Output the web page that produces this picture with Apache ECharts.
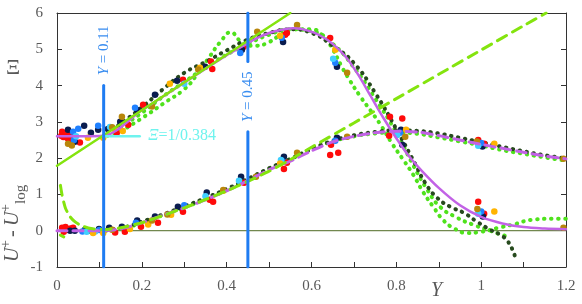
<!DOCTYPE html>
<html><head><meta charset="utf-8">
<script src="https://cdn.jsdelivr.net/npm/echarts@6/dist/echarts.min.js"></script>
<style>html,body{margin:0;padding:0;background:#fff}#c{width:582px;height:304px}</style>
</head><body><div id="c"></div>
<script>
// ---------- data (Y, value) ----------
const redXi = [[0.010,2.62],[0.012,2.73],[0.015,2.58],[0.02,2.68],[0.025,2.55],[0.03,2.64],[0.036,2.52],[0.054,2.43],[0.141,2.7],[0.168,2.92],[0.203,3.47],[0.297,4.16],[0.363,4.66],[0.366,4.46],[0.44,5.07],[0.538,5.4],[0.542,5.45],[0.644,5.31],[0.785,3.14],[0.814,3.09],[0.993,0.8],[1.007,0.47]];
const redDU = [[0.012,0.08],[0.016,-0.03],[0.02,0.1],[0.026,0.03],[0.032,0.06],[0.038,0.08],[0.137,-0.05],[0.16,-0.03],[0.198,0.11],[0.238,0.22],[0.297,0.52],[0.36,0.85],[0.368,0.8],[0.441,1.32],[0.535,1.7],[0.542,1.87],[0.644,2.09],[0.663,2.15],[0.646,2.37],[0.783,2.62],[0.993,2.5],[1.007,2.4]];
const navyXi = [[0.026,2.78],[0.042,2.45],[0.064,2.89],[0.08,2.7],[0.097,2.78],[0.12,2.8],[0.149,3.0],[0.189,3.33],[0.231,3.75],[0.283,4.13],[0.349,4.52],[0.436,4.99],[0.533,5.2],[0.66,4.52],[0.814,2.37],[1.004,0.39]];
const navyDU = [[0.031,0.0],[0.042,0.0],[0.066,0.03],[0.08,0.0],[0.099,0.05],[0.123,0.08],[0.153,0.11],[0.189,0.28],[0.231,0.39],[0.285,0.66],[0.353,1.05],[0.434,1.49],[0.535,2.04],[0.66,2.56],[0.811,2.78],[1.003,2.32]];
const blueXi = [[0.038,2.73],[0.05,2.81],[0.04,2.5],[0.097,2.89],[0.184,3.39],[0.432,4.9],[0.53,5.32],[0.656,4.63],[1.0,0.53]];
const blueDU = [[0.06,-0.02],[0.1,0.02],[0.186,0.22],[0.3,0.7],[0.53,1.93],[0.656,2.48],[0.809,2.7],[1.0,2.42]];
const skyXi = [[0.045,2.6],[0.125,2.86],[0.3,4.05],[0.651,4.74],[0.993,0.47]];
const skyDU = [[0.07,-0.03],[0.09,-0.02],[0.35,0.95],[0.429,1.38],[0.528,1.95],[0.802,2.64],[0.993,2.34]];
const orangeXi = [[0.073,2.56],[0.109,2.56],[0.135,2.8],[0.155,2.75],[0.266,4.05],[0.337,4.49],[0.526,5.37],[0.656,4.99],[1.031,0.53]];
const orangeDU = [[0.085,-0.06],[0.109,-0.06],[0.172,0.05],[0.215,0.17],[0.269,0.44],[0.392,1.1],[0.526,1.85],[0.823,2.78],[1.031,2.4]];
const goldXi = [[0.026,2.4],[0.035,2.35],[0.13,2.85],[0.153,3.14],[0.224,3.42],[0.333,4.44],[0.472,5.48],[0.566,5.67],[0.684,4.35],[0.821,2.59],[0.991,0.6],[1.194,0.08]];
const goldDU = [[0.13,0.03],[0.224,0.28],[0.26,0.45],[0.392,1.12],[0.469,1.49],[0.566,2.15],[0.684,2.59],[0.99,2.46],[1.194,1.98]];

const dkGreenXi = [[0.13,2.8],[0.15,2.95],[0.2,3.4],[0.25,3.9],[0.3,4.35],[0.35,4.65],[0.4,4.97],[0.45,5.27],[0.5,5.45],[0.55,5.55],[0.6,5.45],[0.65,5.1],[0.7,4.62],[0.75,3.8],[0.8,2.8],[0.844,1.85],[0.868,1.32],[0.896,0.91],[0.927,0.66],[0.958,0.5],[0.99,0.25],[1.021,0.03],[1.045,-0.11],[1.061,-0.27],[1.073,-0.5],[1.08,-0.72]];
const ltGreenXiA = [[0.12,2.62],[0.15,2.75],[0.2,3.1],[0.25,3.5],[0.3,3.9],[0.33,4.3],[0.36,4.8],[0.385,5.2],[0.41,5.47],[0.43,5.25],[0.45,5.1],[0.47,5.1],[0.5,5.2],[0.53,5.42],[0.56,5.55],[0.6,5.55],[0.63,5.33],[0.65,5.0],[0.67,4.55],[0.69,4.15],[0.715,3.7],[0.74,3.3],[0.765,2.88],[0.79,2.4],[0.816,1.96],[0.84,1.54],[0.863,1.07],[0.887,0.66],[0.91,0.3],[0.934,0.08],[0.967,-0.06],[1.0,-0.03],[1.04,0.08],[1.075,0.17],[1.12,0.3],[1.17,0.33],[1.2,0.33]];
const ltGreenXiB = [[0.15,2.85],[0.2,3.25],[0.25,3.7],[0.3,4.1],[0.35,4.5],[0.4,4.85],[0.45,5.15],[0.5,5.4],[0.55,5.55],[0.6,5.5],[0.65,5.15],[0.7,4.5],[0.75,3.65],[0.8,2.7],[0.84,1.8],[0.873,1.13],[0.903,0.66],[0.943,0.36],[0.98,0.17],[1.014,0.03],[1.04,-0.08],[1.06,-0.15]];
const dkGreenDU = [[0.1,0.0],[0.15,0.07],[0.2,0.25],[0.25,0.45],[0.3,0.67],[0.35,0.9],[0.4,1.15],[0.45,1.43],[0.5,1.72],[0.55,1.98],[0.6,2.25],[0.65,2.48],[0.7,2.63],[0.75,2.72],[0.8,2.77],[0.85,2.75],[0.9,2.68],[0.95,2.56],[1.0,2.44],[1.05,2.31],[1.1,2.19],[1.15,2.08],[1.2,1.99]];
const ltGreenDU = [[0.1,0.0],[0.15,0.05],[0.2,0.22],[0.25,0.43],[0.3,0.64],[0.35,0.87],[0.4,1.12],[0.45,1.4],[0.5,1.7],[0.55,1.97],[0.6,2.24],[0.65,2.46],[0.7,2.6],[0.75,2.68],[0.8,2.71],[0.85,2.67],[0.9,2.57],[0.95,2.46],[1.0,2.35],[1.05,2.22],[1.1,2.12],[1.15,2.02],[1.2,1.93]];

const violetXi = [[0,2.6],[0.11,2.62],[0.2,3.32],[0.3,4.08],[0.4,4.84],[0.44,5.1],[0.47,5.3],[0.5,5.45],[0.53,5.54],[0.56,5.58],[0.59,5.52],[0.62,5.38],[0.65,5.15],[0.68,4.8],[0.71,4.3],[0.74,3.7],[0.77,3.1],[0.8,2.55],[0.83,2.05],[0.86,1.65],[0.9,1.18],[0.95,0.7],[1.0,0.38],[1.05,0.2],[1.1,0.1],[1.15,0.06],[1.2,0.04]];
const violetDU = [[0,0],[0.1,0.0],[0.15,0.05],[0.2,0.22],[0.25,0.43],[0.3,0.63],[0.35,0.85],[0.4,1.1],[0.45,1.38],[0.5,1.68],[0.55,1.92],[0.6,2.2],[0.65,2.45],[0.7,2.6],[0.75,2.7],[0.8,2.74],[0.85,2.72],[0.9,2.62],[0.95,2.5],[1.0,2.38],[1.05,2.27],[1.1,2.16],[1.15,2.06],[1.2,1.98]];

const logLawXi = [[0,1.79],[0.55,6.0]];
const logLawDU = [[0.008,1.25],[0.012,0.98],[0.02,0.62],[0.03,0.4],[0.04,0.27],[0.055,0.15],[0.08,0.06],[0.11,0.03],[0.15,0.08],[0.2,0.22],[0.25,0.42],[0.3,0.63],[0.35,0.86],[0.4,1.1],[0.45,1.36],[0.5,1.64],[0.55,1.96],[0.6,2.3],[0.7,2.97],[0.8,3.64],[0.9,4.31],[1.0,4.98],[1.1,5.65],[1.153,6.0]];
const logLawNub = [[0.008,-0.12],[0.016,-0.17]];

const refY011 = [[0.11,4.0],[0.11,-1]];
const refY045a = [[0.45,6],[0.45,4.66]];
const refY045b = [[0.45,2.73],[0.45,-1]];
const xiConst = [[0.11,2.604],[0.195,2.604]];
const zeroLine = [[0,0],[1.2,0]];

const label011 = [0.11, 4.97];
const label045 = [0.45, 3.69];
const labelXi = [0.215, 2.604];

const xRange = [0, 1.2, 0.2];
const yRange = [-1, 6, 1];

// ---------- styles ----------
const SERIF = '"Liberation Serif", "DejaVu Serif", serif';
const AX = '#333';
const LBL = '#595959';
const LINEGREEN = '#84e40e';
const LTDOT = '#4fe21c';
const DKDOT = '#274a1e';
const VIOLET = '#c262e6';
const BLUE = '#1f7cf2';
const BLUETXT = '#3b8ef0';
const CYAN = '#6ff3ee';

function sc(name, data, color){
  return {name, type:'scatter', data, symbolSize:6.5, itemStyle:{color, opacity:1}, z:4, silent:true};
}
function ln(data, color, width, type, z, smooth){
  return {type:'line', data, showSymbol:false, smooth: smooth||false, z: z||3, silent:true,
    lineStyle:{color, width, type: type||'solid', cap:'round', opacity:1}};
}

const chart = echarts.init(document.getElementById('c'), null, {renderer:'canvas'});
chart.setOption({
  animation:false,
  backgroundColor:'#fff',
  grid:{left:57, right:16, top:13, bottom:37},
  xAxis:[{
    type:'value', min:xRange[0], max:xRange[1], interval:xRange[2],
    axisLine:{onZero:false, lineStyle:{color:AX, width:1}},
    axisTick:{show:true, inside:true, length:5, lineStyle:{color:AX}},
    minorTick:{show:true, splitNumber:2, length:5, lineStyle:{color:AX}},
    splitLine:{show:false},
    axisLabel:{fontFamily:SERIF, fontSize:15, color:LBL, margin:12}
  },{
    type:'value', position:'top', min:xRange[0], max:xRange[1],
    axisLine:{show:true, onZero:false, lineStyle:{color:AX, width:1}},
    axisTick:{show:false}, axisLabel:{show:false}, splitLine:{show:false}
  }],
  yAxis:[{
    type:'value', min:yRange[0], max:yRange[1], interval:yRange[2],
    axisLine:{show:true, onZero:false, lineStyle:{color:AX, width:1}},
    axisTick:{show:true, inside:true, length:5, lineStyle:{color:AX}},
    splitLine:{show:false},
    axisLabel:{fontFamily:SERIF, fontSize:15, color:LBL, margin:14}
  },{
    type:'value', position:'right', min:yRange[0], max:yRange[1], interval:yRange[2],
    axisLine:{show:true, onZero:false, lineStyle:{color:AX, width:1}},
    axisTick:{show:true, inside:true, length:5, lineStyle:{color:AX}},
    axisLabel:{show:false}, splitLine:{show:false}
  }],
  series:[
    ln(zeroLine, '#4e6a22', 1, 'solid', 1),
    ln(ltGreenXiA, LTDOT, 4, [0.5,6.5], 3, true),
    ln(ltGreenXiB, LTDOT, 4, [0.5,6.5], 3, true),
    ln(ltGreenDU, LTDOT, 4, [0.5,6.5], 3, true),
    ln(dkGreenXi, DKDOT, 4, [0.5,6.5], 3, true),
    ln(dkGreenDU, DKDOT, 4, [0.5,6.5], 3, true),
    sc('red', redXi.concat(redDU), '#ff0a0a'),
    sc('navy', navyXi.concat(navyDU), '#0a1c4e'),
    sc('blue', blueXi.concat(blueDU), '#1f80ff'),
    sc('sky', skyXi.concat(skyDU), '#40d0ff'),
    sc('orange', orangeXi.concat(orangeDU), '#ffb400'),
    sc('gold', goldXi.concat(goldDU), '#b8860b'),
    ln(violetXi, VIOLET, 2.5, 'solid', 5, 0.3),
    ln(violetDU, VIOLET, 3, [10,6], 5, 0.3),
    ln(logLawXi, LINEGREEN, 2.5, 'solid', 6),
    ln(logLawDU, LINEGREEN, 3, [10,7], 6, 0.2),
    ln(logLawNub, LINEGREEN, 3, 'solid', 6),
    ln(xiConst, CYAN, 2.5, 'solid', 6),
    ln(refY011, BLUE, 3, 'solid', 7),
    ln(refY045a, BLUE, 3, 'solid', 7),
    ln(refY045b, BLUE, 3, 'solid', 7)
  ]
});

const p011 = chart.convertToPixel({gridIndex:0}, label011);
const p045 = chart.convertToPixel({gridIndex:0}, label045);
const pXi = chart.convertToPixel({gridIndex:0}, labelXi);

function rotLabel(p, txt){
  return {type:'text', x:p[0], y:p[1], rotation:Math.PI/2, z:100,
    style:{text:'{i|Y} = '+txt, fontFamily:SERIF, fontSize:15, fill:BLUETXT,
      align:'center', verticalAlign:'middle', textAlign:'center', textVerticalAlign:'middle',
      rich:{i:{fontFamily:SERIF, fontSize:15, fontStyle:'italic', fill:BLUETXT}}}};
}
function t(x,y,text,size,italic,opts){
  return Object.assign({type:'text', x, y, z:100, style:Object.assign({text, fontFamily:SERIF, fontSize:size,
    fontStyle: italic?'italic':'normal', fill:LBL, align:'left', verticalAlign:'middle',
    textAlign:'left', textVerticalAlign:'middle'}, opts||{})});
}

chart.setOption({graphic:[
  rotLabel(p011, '0.11'),
  rotLabel(p045, '0.45'),
  {type:'text', x:pXi[0], y:pXi[1], z:100,
    style:{text:'{i|Ξ}=1/0.384', fontFamily:SERIF, fontSize:16, fill:CYAN,
      align:'left', verticalAlign:'middle', textAlign:'left', textVerticalAlign:'middle',
      rich:{i:{fontFamily:SERIF, fontSize:16, fontStyle:'italic', fill:CYAN}}}},
  t(13, 68, 'Ξ', 22, false, {align:'center', textAlign:'center'}),
  t(431, 291, 'Y', 20, true),
  {type:'group', x:13, y:262, rotation:Math.PI/2, children:[
    t(0, 0, 'U', 20, true),
    t(14, -7, '+', 14, false),
    t(25, 0, '-', 20, false),
    t(36, 0, 'U', 20, true),
    t(50, -7, '+', 14, false),
    t(58, 8, 'log', 15, false)
  ]}
]});
</script></body></html>
